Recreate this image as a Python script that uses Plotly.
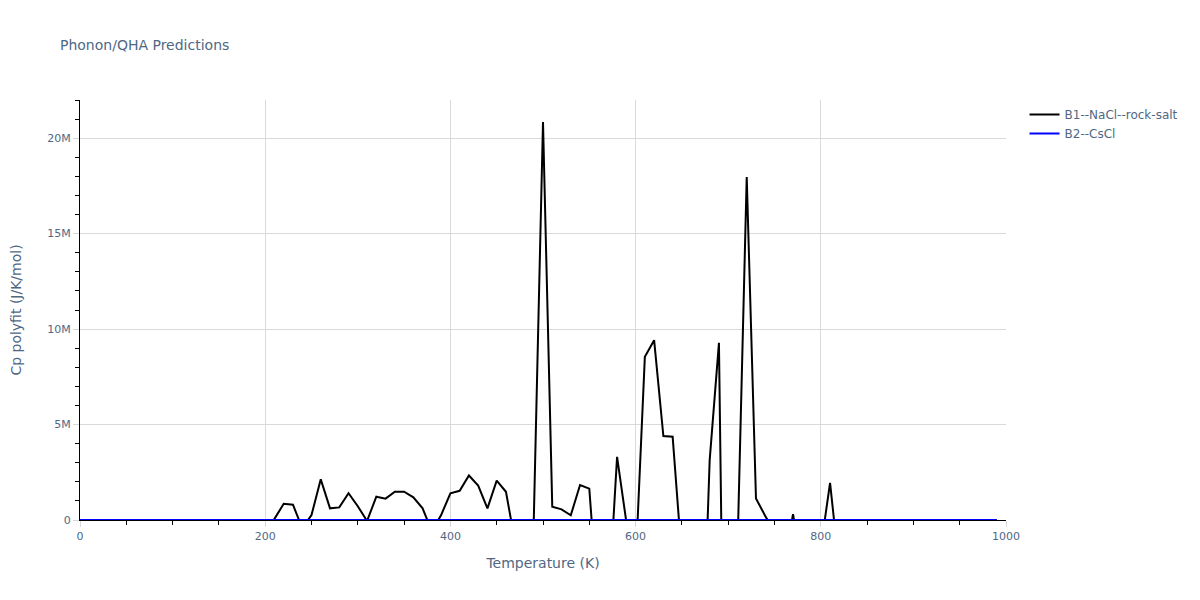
import plotly.graph_objects as go

temperature = list(range(0, 1000, 10))

# Cp polyfit for B1 (values in J/K/mol, listed in millions);
# negative values are clipped by the axis range, as in the reference
cp_b1_millions = [
    0, 0, 0, 0, 0, 0, 0, 0, 0, 0,            # 0-90
    0, 0, 0, 0, 0, 0, 0, 0, 0, 0,            # 100-190
    -0.5, 0.06, 0.85, 0.80, -0.43, 0.26, 2.13, 0.61, 0.66, 1.40,   # 200-290
    0.72, -0.05, 1.22, 1.12, 1.48, 1.48, 1.19, 0.61, -0.6, 0.26,   # 300-390
    1.40, 1.53, 2.33, 1.80, 0.61, 2.06, 1.48, -1.21, -1.5, -0.1,   # 400-490
    20.85, 0.70, 0.56, 0.25, 1.83, 1.64, -4.9, -5.0, 3.31, -0.1,   # 500-590
    -2.4, 8.55, 9.42, 4.40, 4.36, -2.05, -5.0, -11.0, 3.14, 9.28,  # 600-690
    -27.8, -1.6, 17.97, 1.13, 0.21, -0.63, -2.5, 0.31, -2.5, -2.0,  # 700-790
    -1.47, 1.95, -2.6, 0, 0, 0, 0, 0, 0, 0,  # 800-890
    0, 0, 0, 0, 0, 0, 0, 0, 0, 0,            # 900-990
]
cp_b1 = [v * 1e6 for v in cp_b1_millions]
cp_b2 = [0] * len(temperature)

series_names = ["B1--NaCl--rock-salt", "B2--CsCl"]

fig = go.Figure()
fig.add_trace(go.Scatter(x=temperature, y=cp_b1, mode="lines", name=series_names[0],
                         line=dict(color="black", width=2)))
fig.add_trace(go.Scatter(x=temperature, y=cp_b2, mode="lines", name=series_names[1],
                         line=dict(color="blue", width=2)))

grid = "#d9d9d9"
text_color = "#506784"
axis_common = dict(
    showline=True, linecolor="black", linewidth=1,
    showgrid=True, gridcolor=grid, gridwidth=1,
    ticks="outside", tickcolor=grid, ticklen=6,
    tickfont=dict(size=11, color=text_color),
    zeroline=False,
)

fig.update_layout(
    width=1184, height=584,
    title=dict(text="Phonon/QHA Predictions", xref="container", yref="container",
               x=0.0439, xanchor="left", y=0.9366, yanchor="middle",
               font=dict(size=14, color=text_color)),
    font=dict(family="DejaVu Sans, Verdana, sans-serif", color=text_color, size=12),
    plot_bgcolor="white", paper_bgcolor="white",
    margin=dict(l=72, r=186, t=92, b=72, autoexpand=False),
    legend=dict(x=1.02, y=1, xanchor="left", yanchor="top", font=dict(size=12, color=text_color)),
    xaxis=dict(title=dict(text="Temperature (K)", font=dict(size=14, color=text_color)),
               range=[0, 1000], dtick=200, automargin=False,
               minor=dict(dtick=50, ticks="outside", ticklen=4, tickcolor="black", showgrid=False),
               **axis_common),
    yaxis=dict(title=dict(text="Cp polyfit (J/K/mol)", font=dict(size=14, color=text_color), standoff=22),
               range=[0, 22e6], dtick=5e6, automargin=False,
               minor=dict(dtick=1e6, ticks="outside", ticklen=4, tickcolor="black", showgrid=False),
               **axis_common),
)

fig.write_html("out.html")
